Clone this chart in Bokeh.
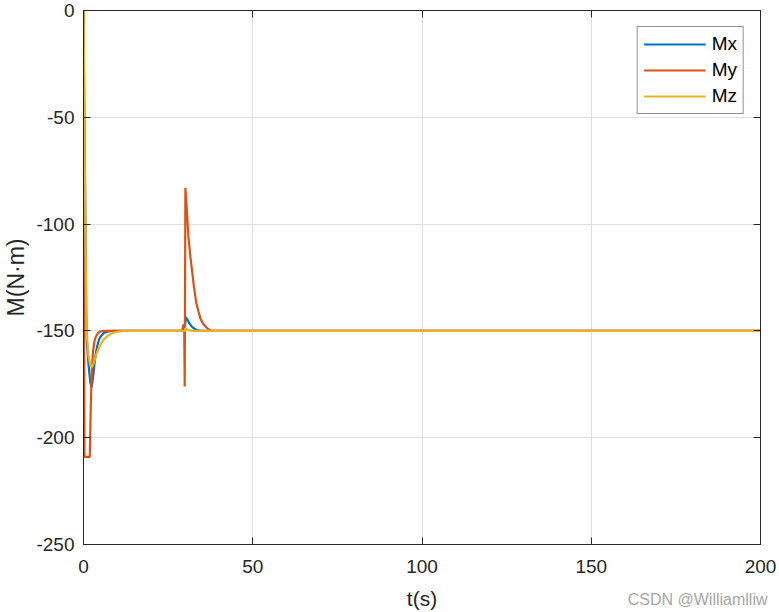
from bokeh.plotting import figure
from bokeh.models import Range1d, LinearAxis, FixedTicker, Legend, LegendItem, Title
from bokeh.embed import file_html
from bokeh.resources import INLINE

# ---- data ----
t_mx = [0, 0.4, 0.8, 1.0, 1.5, 2.0, 2.4, 2.8, 3.2, 3.6, 4.0, 4.5, 5.0, 6.0, 7.0, 8.0, 9.0,
        29.8, 30.0, 30.2, 30.6, 31.3, 32.0, 32.8, 33.5, 35.0, 200]
mx = [0, -70, -140, -155, -166, -174, -176.5, -172, -166, -161, -157.5, -154.5, -152.7, -151, -150.4, -150.1, -150,
      -150, -148, -143.5, -144.5, -146.5, -148, -149, -149.6, -150, -150]

t_my = [0, 0.1, 0.3, 1.85, 2.0, 2.2, 2.5, 2.8, 3.2, 3.7, 4.3, 5.0, 6.0,
        29.2, 29.5, 29.75, 29.9, 30.1, 30.4, 30.7, 31.0, 31.5, 32.0, 32.6, 33.3, 34.0, 34.6, 35.4, 36.3, 37.0, 37.8, 200]
my = [0, -110, -209, -209, -197, -182, -167, -160, -155, -152.5, -151, -150.3, -150,
      -150, -147, -149, -176, -83, -90, -98, -106, -114, -121, -129, -136.7, -141, -144.5, -146.8, -148.4, -149.3, -150, -150]

t_mz = [0, 0.4, 0.8, 1.0, 1.5, 2.0, 2.4, 3.0, 3.5, 4.0, 5.0, 6.0, 7.0, 8.0, 9.0, 10.0, 12.0,
        29.9, 30.1, 30.4, 31.0, 32.0, 200]
mz = [0, -75, -140, -152, -162, -166, -167, -165, -162.5, -160, -156.5, -154, -152.5, -151.5, -150.8, -150.4, -150,
      -150, -148.8, -149.2, -149.6, -150, -150]

series_names = ["Mx", "My", "Mz"]
colors = ["#0072BD", "#D95319", "#EDB120"]
x_ticks = [0, 50, 100, 150, 200]
y_ticks = [-250, -200, -150, -100, -50, 0]
x_label = "t(s)"
y_label = "M(N·m)"
watermark = "CSDN @Williamlliw"

FONT = "Liberation Sans"
DARK = "#262626"

p = figure(width=779, height=612, output_backend="svg", toolbar_location=None,
           x_range=Range1d(0, 200), y_range=Range1d(-250, 0),
           min_border_left=82, min_border_right=19, min_border_top=10, min_border_bottom=68)

p.outline_line_color = DARK
p.outline_line_width = 1
p.background_fill_color = "white"
p.border_fill_color = "white"

renderers = []
for tt, vv, c in zip([t_mx, t_my, t_mz], [mx, my, mz], colors):
    r = p.line(tt, vv, line_color=c, line_width=2.2)
    renderers.append(r)

# axes styling
for ax in (p.xaxis[0], p.yaxis[0]):
    ax.axis_line_color = DARK
    ax.major_tick_line_color = DARK
    ax.major_tick_in = 7
    ax.major_tick_out = 0
    ax.minor_tick_line_color = None
    ax.major_label_text_font = FONT
    ax.major_label_text_font_size = "19px"
    ax.major_label_text_color = DARK
    ax.axis_label_text_font = FONT
    ax.axis_label_text_font_style = "normal"
    ax.axis_label_text_color = DARK

p.xaxis[0].ticker = FixedTicker(ticks=x_ticks)
p.yaxis[0].ticker = FixedTicker(ticks=y_ticks)
p.xaxis[0].major_label_overrides = {v: str(v) for v in x_ticks}
p.yaxis[0].major_label_overrides = {v: str(v) for v in y_ticks}
p.xaxis[0].major_label_standoff = 15
p.yaxis[0].major_label_standoff = 9
p.xaxis[0].axis_label = x_label
p.xaxis[0].axis_label_text_font_size = "21px"
p.xaxis[0].axis_label_standoff = 11
p.yaxis[0].axis_label = y_label
p.yaxis[0].axis_label_text_font_size = "23px"
p.yaxis[0].axis_label_standoff = 4

# top / right box ticks (no labels)
top = LinearAxis(ticker=FixedTicker(ticks=x_ticks), major_label_overrides={v: "" for v in x_ticks},
                 major_label_text_font_size="0px", major_label_standoff=0,
                 major_tick_in=7, major_tick_out=0,
                 minor_tick_line_color=None, axis_line_color=DARK, major_tick_line_color=DARK)
right = LinearAxis(ticker=FixedTicker(ticks=y_ticks), major_label_overrides={v: "" for v in y_ticks},
                   major_label_text_font_size="0px", major_label_standoff=0,
                   major_tick_in=7, major_tick_out=0,
                   minor_tick_line_color=None, axis_line_color=DARK, major_tick_line_color=DARK)
p.add_layout(top, "above")
p.add_layout(right, "right")

p.grid.grid_line_color = "#dfdfdf"
p.xgrid.ticker = FixedTicker(ticks=x_ticks)
p.ygrid.ticker = FixedTicker(ticks=y_ticks)

legend = Legend(items=[LegendItem(label=n, renderers=[r]) for n, r in zip(series_names, renderers)],
                location="top_right")
legend.margin = 16
legend.padding = 6
legend.spacing = 4
legend.glyph_width = 62
legend.glyph_height = 20
legend.label_height = 20
legend.label_standoff = 6
legend.label_text_font = FONT
legend.label_text_font_size = "19px"
legend.label_text_color = "black"
legend.border_line_color = DARK
legend.border_line_width = 1
legend.background_fill_alpha = 1
p.add_layout(legend)

wm = Title(text=watermark, align="right", vertical_align="top", text_font=FONT, text_font_size="16px",
           text_font_style="normal", text_color="#a6a6a6", standoff=-44, offset=-7)
p.add_layout(wm, "below")

open("out.html", "w").write(file_html(p, INLINE))
